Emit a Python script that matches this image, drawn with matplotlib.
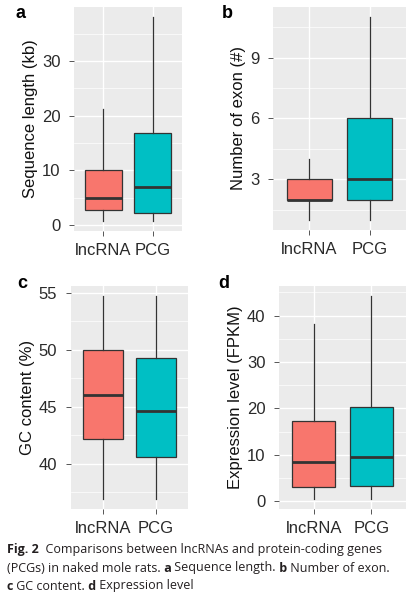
import matplotlib
matplotlib.use("Agg")
import matplotlib.pyplot as plt
from matplotlib.ticker import MultipleLocator

# box statistics: (whislo, q1, med, q3, whishi)
groups = ["lncRNA", "PCG"]
seq_length = [(0.8, 2.7, 4.9, 10.1, 21.3), (0.8, 2.25, 7.0, 16.8, 38.0)]
exon_number = [(1, 2, 2, 3, 4), (1, 2, 3, 6, 11)]
gc_content = [(36.9, 42.2, 46.05, 50.0, 54.7), (36.9, 40.6, 44.65, 49.3, 54.7)]
expression = [(0.5, 3.1, 8.45, 17.2, 38.2), (0.5, 3.2, 9.6, 20.3, 44.2)]

fill_colors = ["#F8766D", "#00BFC4"]
dark = "#333333"
W, H = 414, 598


def px_axes(fig, left, top, right, bottom):
    return fig.add_axes([left / W, 1 - bottom / H, (right - left) / W, (bottom - top) / H])


def draw_box(ax, data, ylabel, major, minor, letter, letter_xy):
    stats = []
    for name, (lo, q1, med, q3, hi) in zip(groups, data):
        stats.append(dict(label=name, whislo=lo, q1=q1, med=med, q3=q3, whishi=hi, fliers=[]))
    res = ax.bxp(stats, positions=[1, 2], widths=0.75, patch_artist=True,
                 showcaps=False, showfliers=False,
                 boxprops=dict(edgecolor=dark, linewidth=0.9),
                 whiskerprops=dict(color=dark, linewidth=0.9),
                 medianprops=dict(color=dark, linewidth=2.0, solid_capstyle="butt"))
    for patch, c in zip(res["boxes"], fill_colors):
        patch.set_facecolor(c)

    # ggplot-like ranges (5% expansion, 0.6 discrete)
    lo = min(d[0] for d in data)
    hi = max(d[4] for d in data)
    pad = (hi - lo) * 0.05
    ax.set_ylim(lo - pad, hi + pad)
    ax.set_xlim(0.4, 2.6)

    ax.set_facecolor("#EBEBEB")
    for s in ax.spines.values():
        s.set_visible(False)
    ax.yaxis.set_major_locator(MultipleLocator(major))
    ax.yaxis.set_minor_locator(MultipleLocator(minor))
    ax.set_axisbelow(True)
    ax.grid(which="major", color="white", linewidth=1.0)
    ax.grid(which="minor", axis="y", color="white", linewidth=0.5)
    ax.tick_params(which="major", length=3.3, width=0.7, color="#555555",
                   labelsize=12, labelcolor="#2a2a2a")
    ax.tick_params(axis="y", pad=6.5)
    ax.tick_params(axis="x", pad=5)
    ax.tick_params(which="minor", length=0)
    ax.set_xticks([1, 2])
    ax.set_xticklabels(groups)
    ax.set_ylabel(ylabel, fontsize=12, color="#111111", labelpad=3)
    fig.text(letter_xy[0] / W, 1 - letter_xy[1] / H, letter, fontsize=13,
             fontweight="bold", va="center", ha="left")


plt.rcParams["font.family"] = ["Liberation Sans", "DejaVu Sans"]
fig = plt.figure(figsize=(W / 100, H / 100), dpi=100)

ax_a = px_axes(fig, 74, 7, 182, 231)
draw_box(ax_a, seq_length, "Sequence length (kb)", 10, 5, "a", (16, 14))

ax_b = px_axes(fig, 273, 7, 406, 230)
draw_box(ax_b, exon_number, "Number of exon (#)", 3, 1.5, "b", (222, 14))

ax_c = px_axes(fig, 71, 286, 188, 509)
draw_box(ax_c, gc_content, "GC content (%)", 5, 2.5, "c", (17, 284))

ax_d = px_axes(fig, 279, 286, 406, 509)
draw_box(ax_d, expression, "Expression level (FPKM)", 10, 5, "d", (218, 284))

# caption with bold runs
caption = [
    [("Fig. 2", "bold"), ("  Comparisons between lncRNAs and protein-coding genes", "normal")],
    [("(PCGs) in naked mole rats.", "normal"), (" a", "bold"), (" Sequence length.", "normal"),
     (" b", "bold"), (" Number of exon.", "normal")],
    [("c", "bold"), (" GC content.", "normal"), (" d", "bold"), (" Expression level", "normal")],
]
renderer = fig.canvas.get_renderer()
line_y = [550, 568, 586]
for runs, y in zip(caption, line_y):
    x = 7
    for text, weight in runs:
        t = fig.text(x / W, 1 - y / H, text, fontsize=9.0, fontweight=weight,
                     family="Open Sans", color="#231F20", va="center", ha="left")
        x += t.get_window_extent(renderer).width

fig.savefig("out.png", dpi=100)
